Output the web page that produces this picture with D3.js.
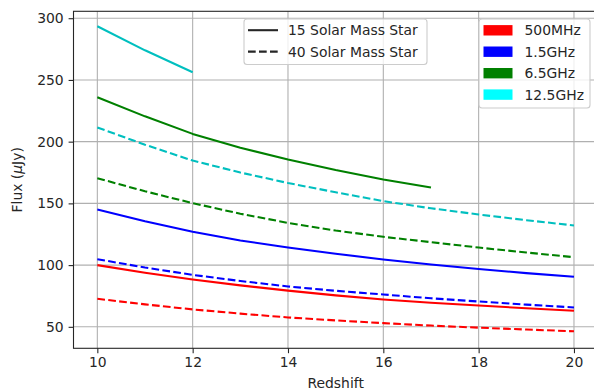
<!DOCTYPE html>
<html>
<head>
<meta charset="utf-8">
<script src="https://cdn.jsdelivr.net/npm/d3@7/dist/d3.min.js"></script>
<style>
  html, body { margin: 0; padding: 0; background: #fff; }
  svg { display: block; }
  text { font-family: "DejaVu Sans", sans-serif; fill: #262626; }
</style>
</head>
<body>
<svg id="chart" width="594" height="392"></svg>
<script>
// ---- data ----
const redshift = [10, 11, 12, 13, 14, 15, 16, 17, 18, 19, 20];
const red15   = [100, 93.8, 88.4, 83.6, 79.3, 75.5, 72.2, 69.5, 67.3, 65.0, 63.0];
const red40   = [72.7, 68.2, 64.1, 60.7, 57.6, 55.2, 53.0, 51.0, 49.3, 47.8, 46.4];
const blue15  = [145, 135.5, 127, 120, 114.2, 109.2, 104.6, 100.5, 96.8, 93.5, 90.5];
const blue40  = [104.8, 98.0, 92.1, 87.1, 82.7, 79.2, 76.2, 73.1, 70.5, 68.0, 65.7];
const green15 = [236, 220.5, 206.3, 195, 185.5, 177, 169.4, 162.9];            // z = 10..17
const green40 = [170.4, 159.8, 150.2, 141.6, 134.2, 128, 122.9, 118.6, 114.2, 110.2, 106.4];
const cyan15  = [293.5, 274, 256.2];                                            // z = 10..12
const cyan40  = [211.5, 197.5, 184.7, 175, 166.5, 159, 151.8, 146, 141, 136.4, 132.1];

const xTicks = [10, 12, 14, 16, 18, 20];
const yTicks = [50, 100, 150, 200, 250, 300];

const massLabels = ["15 Solar Mass Star", "40 Solar Mass Star"];
const freqLabels = ["500MHz", "1.5GHz", "6.5GHz", "12.5GHz"];
const freqPatchColors = ["#ff0000", "#0000ff", "#008000", "#00ffff"];

const series = [
  { values: red15,   color: "#ff0000", dashed: false },
  { values: red40,   color: "#ff0000", dashed: true },
  { values: blue15,  color: "#0000ff", dashed: false },
  { values: blue40,  color: "#0000ff", dashed: true },
  { values: green15, color: "#008000", dashed: false },
  { values: green40, color: "#008000", dashed: true },
  { values: cyan15,  color: "#00bfbf", dashed: false },
  { values: cyan40,  color: "#00bfbf", dashed: true }
];

// ---- layout ----
const svg = d3.select("#chart");
const pLeft = 73.5, pRight = 597.8, pTop = 11.3, pBottom = 348.3;
const x = d3.scaleLinear().domain([9.5, 20.5]).range([pLeft, pRight]);
const y = d3.scaleLinear().domain([32.6, 305.6]).range([pBottom, pTop]);
const fs = 13.9;

// grid
const grid = svg.append("g");
grid.selectAll("line.gx").data(xTicks).join("line").attr("class", "gx")
  .attr("x1", d => x(d)).attr("x2", d => x(d))
  .attr("y1", pTop).attr("y2", pBottom)
  .attr("stroke", "#b0b0b0").attr("stroke-width", 1.1);
grid.selectAll("line.gy").data(yTicks).join("line").attr("class", "gy")
  .attr("x1", pLeft).attr("x2", pRight)
  .attr("y1", d => y(d)).attr("y2", d => y(d))
  .attr("stroke", "#b0b0b0").attr("stroke-width", 1.1);

// lines
const line = d3.line().x((d, i) => x(redshift[i])).y(d => y(d));
svg.append("g").selectAll("path").data(series).join("path")
  .attr("d", d => line(d.values))
  .attr("fill", "none")
  .attr("stroke", d => d.color)
  .attr("stroke-width", 2.08)
  .attr("stroke-linejoin", "round")
  .attr("stroke-dasharray", d => d.dashed ? "7.7,3.3" : null);

// axes
const xAxis = d3.axisBottom(x).tickValues(xTicks).tickSize(4.9).tickPadding(3.5).tickFormat(d3.format("d"));
const yAxis = d3.axisLeft(y).tickValues(yTicks).tickSize(4.9).tickPadding(4.9).tickFormat(d3.format("d"));
const gx = svg.append("g").attr("transform", `translate(0,${pBottom})`).call(xAxis);
const gy = svg.append("g").attr("transform", `translate(${pLeft},0)`).call(yAxis);
[gx, gy].forEach(g => {
  g.select(".domain").remove();
  g.selectAll(".tick line").attr("stroke", "#262626").attr("stroke-width", 1.1);
  g.selectAll(".tick text").attr("font-size", fs).attr("font-family", "DejaVu Sans").attr("fill", "#262626");
});

// spines
svg.append("rect")
  .attr("x", pLeft).attr("y", pTop).attr("width", pRight - pLeft).attr("height", pBottom - pTop)
  .attr("fill", "none").attr("stroke", "#262626").attr("stroke-width", 1.1);

// axis labels
svg.append("text").attr("x", (pLeft + pRight) / 2).attr("y", 388)
  .attr("text-anchor", "middle").attr("font-size", fs).text("Redshift");
const yl = svg.append("text")
  .attr("transform", `translate(21.5,${(pTop + pBottom) / 2}) rotate(-90)`)
  .attr("text-anchor", "middle").attr("font-size", fs);
yl.append("tspan").text("Flux (");
yl.append("tspan").attr("font-style", "italic").text("μ");
yl.append("tspan").text("Jy)");

// legend 1 (line styles)
const lg1 = svg.append("g");
lg1.append("rect").attr("x", 244).attr("y", 19).attr("width", 183).attr("height", 45.5)
  .attr("rx", 3).attr("fill", "#fff").attr("fill-opacity", 0.8)
  .attr("stroke", "#cccccc").attr("stroke-width", 1.1);
const rowY1 = [30.2, 51.6];
lg1.selectAll("line").data(massLabels).join("line")
  .attr("x1", 248).attr("x2", 278).attr("y1", (d, i) => rowY1[i]).attr("y2", (d, i) => rowY1[i])
  .attr("stroke", "#262626").attr("stroke-width", 2.08)
  .attr("stroke-dasharray", (d, i) => i === 1 ? "7.7,3.3" : null);
lg1.selectAll("text").data(massLabels).join("text")
  .attr("x", 288).attr("y", (d, i) => rowY1[i]).attr("dy", "0.36em")
  .attr("font-size", fs).text(d => d);

// legend 2 (frequencies)
const lg2 = svg.append("g");
lg2.append("rect").attr("x", 479).attr("y", 19).attr("width", 111).attr("height", 89)
  .attr("rx", 3).attr("fill", "#fff").attr("fill-opacity", 0.8)
  .attr("stroke", "#cccccc").attr("stroke-width", 1.1);
const rowY2 = [30.3, 51.7, 73.2, 94.6];
lg2.selectAll("rect.patch").data(freqLabels).join("rect").attr("class", "patch")
  .attr("x", 483.5).attr("y", (d, i) => rowY2[i] - 5.2).attr("width", 29).attr("height", 10.4)
  .attr("fill", (d, i) => freqPatchColors[i]);
lg2.selectAll("text").data(freqLabels).join("text")
  .attr("x", 524.5).attr("y", (d, i) => rowY2[i]).attr("dy", "0.36em")
  .attr("font-size", fs).text(d => d);
</script>
</body>
</html>
